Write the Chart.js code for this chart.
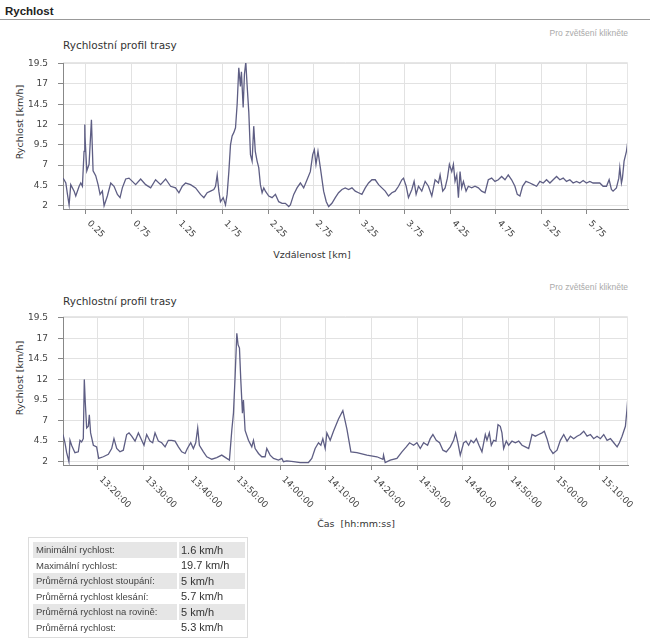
<!DOCTYPE html>
<html lang="cs">
<head>
<meta charset="utf-8">
<title>Rychlost</title>
<script src="https://cdn.jsdelivr.net/npm/chart.js@4.4.1/dist/chart.umd.min.js"></script>
<style>
  body { margin: 0; background: #fff; }
  #page { position: relative; width: 650px; height: 641px; overflow: hidden; font-family: "DejaVu Sans", sans-serif; }
  .abs { position: absolute; white-space: pre; }
  #head { left: 5px; top: 5px; font: bold 11.5px "Liberation Sans", Arial, sans-serif; color: #222; }
  #rule { left: 0; top: 19px; width: 650px; height: 1px; background: #999; }
  .zoom { right: 22px; font: 8.5px "Liberation Sans", Arial, sans-serif; color: #aaa; line-height: 10px; }
  .ctitle { left: 63px; font-size: 10.5px; color: #333; line-height: 12px; }
  .ytitle { font-size: 9.5px; color: #333; transform: translate(-50%, -50%) rotate(-90deg); }
  .xtitle { font-size: 9.5px; color: #333; transform: translate(-50%, -50%); }
  canvas { position: absolute; left: 0; }
  #stats { position: absolute; left: 28px; top: 537px; width: 218px; height: 99px; border: 1px solid #dcdcdc; }
  #stats table { position: absolute; left: 4px; top: 4px; border-collapse: collapse; }
  #stats td { height: 15.5px; padding: 0; }
  #stats td.lab { width: 141px; padding-left: 3px; font: 9.5px "Liberation Sans", Arial, sans-serif; color: #444; }
  #stats td.val { width: 64px; padding-left: 2px; border-left: 2px solid #fff; font: 11px "Liberation Sans", Arial, sans-serif; color: #333; }
  #stats tr.odd td { background: #e6e6e6; }
</style>
</head>
<body>
<div id="page">
  <div class="abs" id="head">Rychlost</div>
  <div class="abs" id="rule"></div>

  <div class="abs zoom" style="top:28px">Pro zvětšení klikněte</div>
  <div class="abs ctitle" style="top:39px">Rychlostní profil trasy</div>
  <div class="abs ytitle" style="left:19px; top:122px">Rychlost [km/h]</div>
  <div class="abs xtitle" style="left:312px; top:254px">Vzdálenost [km]</div>
  <canvas id="distChart" width="650" height="268" style="top:0"></canvas>

  <div class="abs zoom" style="top:282px">Pro zvětšení klikněte</div>
  <div class="abs ctitle" style="top:295px">Rychlostní profil trasy</div>
  <div class="abs ytitle" style="left:19px; top:378px">Rychlost [km/h]</div>
  <div class="abs xtitle" style="left:356px; top:523px">Čas  [hh:mm:ss]</div>
  <canvas id="timeChart" width="650" height="268" style="top:270px"></canvas>

  <div id="stats"><table id="statTable"></table></div>
</div>

<script>
// osa Y - rychlost
const speedTicks = [2, 4.5, 7, 9.5, 12, 14.5, 17, 19.5];
const speedMin = 1.6;
const speedMax = 19.7;

// graf 1 - vzdalenost
const distTicks = [0.25, 0.75, 1.25, 1.75, 2.25, 2.75, 3.25, 3.75, 4.25, 4.75, 5.25, 5.75];
const distTickLabels = ['0.25', '0.75', '1.25', '1.75', '2.25', '2.75', '3.25', '3.75', '4.25', '4.75', '5.25', '5.75'];
const distKm = [
  0, 0.012, 0.031, 0.049, 0.067, 0.085, 0.122, 0.140, 0.177, 0.195, 0.213, 0.231, 0.239, 0.242, 0.261, 0.286,
  0.312, 0.330, 0.359, 0.385, 0.407, 0.432, 0.451, 0.487, 0.524, 0.560, 0.597, 0.626, 0.651, 0.688, 0.724, 0.761,
  0.797, 0.852, 0.907, 0.962, 1.016, 1.071, 1.126, 1.181, 1.235, 1.272, 1.309, 1.345, 1.400, 1.455, 1.509, 1.546,
  1.582, 1.619, 1.655, 1.674, 1.692, 1.710, 1.728, 1.758, 1.783, 1.801, 1.820, 1.838, 1.856, 1.874, 1.893, 1.911,
  1.929, 1.947, 1.958, 1.977, 1.991, 2.006, 2.020, 2.039, 2.057, 2.075, 2.093, 2.110, 2.130, 2.148, 2.166, 2.185,
  2.203, 2.221, 2.258, 2.294, 2.331, 2.367, 2.404, 2.440, 2.477, 2.495, 2.532, 2.568, 2.605, 2.641, 2.678, 2.714,
  2.740, 2.758, 2.776, 2.798, 2.824, 2.860, 2.889, 2.915, 2.951, 2.988, 3.024, 3.061, 3.097, 3.134, 3.171, 3.207,
  3.243, 3.280, 3.317, 3.353, 3.390, 3.426, 3.463, 3.499, 3.536, 3.572, 3.609, 3.645, 3.682, 3.718, 3.736, 3.766,
  3.791, 3.828, 3.853, 3.875, 3.901, 3.937, 3.974, 4.010, 4.047, 4.083, 4.120, 4.138, 4.167, 4.193, 4.218, 4.240,
  4.266, 4.284, 4.302, 4.321, 4.339, 4.357, 4.375, 4.394, 4.423, 4.448, 4.485, 4.521, 4.558, 4.594, 4.631, 4.667,
  4.704, 4.740, 4.777, 4.813, 4.850, 4.886, 4.923, 4.959, 4.985, 5.014, 5.043, 5.080, 5.124, 5.160, 5.197, 5.233,
  5.270, 5.306, 5.343, 5.379, 5.416, 5.452, 5.489, 5.525, 5.562, 5.598, 5.635, 5.671, 5.708, 5.744, 5.781, 5.817,
  5.854, 5.890, 5.927, 5.964, 5.993, 6.018, 6.036, 6.073, 6.099, 6.110, 6.128, 6.139, 6.157, 6.183, 6.200
];
const distSpeed = [
  5.4, 5.2, 4.8, 3.4, 2.1, 4.6, 3.8, 3.2, 4.4, 4.8, 4.4, 8.7, 12.0, 10.4, 6.3, 7.1,
  12.6, 6.3, 5.7, 4.6, 3.4, 3.8, 2.0, 3.2, 4.8, 4.4, 3.4, 3.0, 4.2, 5.3, 5.4, 5.0,
  4.6, 5.3, 4.6, 4.2, 5.2, 4.6, 5.3, 4.4, 4.2, 3.6, 4.4, 4.8, 4.6, 4.2, 3.4, 3.0,
  3.6, 3.8, 4.0, 4.4, 5.8, 3.8, 2.5, 3.0, 2.1, 3.4, 6.2, 9.5, 10.6, 11.0, 11.6, 14.5,
  19.0, 16.7, 18.5, 14.1, 18.2, 19.7, 16.9, 13.5, 8.3, 7.5, 11.8, 8.7, 7.5, 6.7, 4.6, 3.6,
  4.2, 3.8, 3.2, 3.0, 3.4, 2.5, 2.3, 2.3, 1.9, 2.1, 3.4, 4.2, 4.8, 4.2, 5.2, 6.2,
  8.3, 8.9, 7.1, 8.7, 6.7, 3.8, 2.5, 1.9, 2.3, 3.0, 3.6, 4.0, 4.2, 4.0, 4.2, 3.8,
  3.6, 3.4, 4.2, 4.8, 5.2, 5.2, 4.6, 4.2, 3.8, 3.2, 3.6, 3.8, 4.4, 5.2, 5.4, 4.4,
  3.0, 4.0, 5.0, 3.4, 4.4, 3.8, 5.0, 4.4, 3.2, 5.2, 4.8, 5.8, 3.8, 4.2, 5.4, 7.1,
  6.2, 7.1, 5.0, 5.8, 3.0, 6.2, 4.2, 5.0, 3.8, 4.4, 4.2, 4.4, 4.2, 3.8, 3.6, 5.2,
  5.4, 5.0, 5.2, 5.6, 5.2, 5.8, 5.2, 4.4, 3.4, 3.2, 4.4, 5.0, 4.8, 4.6, 4.4, 5.0,
  4.8, 5.2, 4.8, 5.2, 5.6, 5.2, 5.4, 5.0, 5.2, 4.8, 5.0, 4.8, 5.1, 4.8, 5.0, 4.8,
  4.8, 4.8, 4.4, 4.4, 5.2, 4.0, 3.8, 4.2, 5.4, 6.7, 4.8, 5.4, 7.5, 8.7, 10.1
];

// graf 2 - cas
const timeMin = '13:12:24';
const timeMax = '15:16:12';
const timeTickLabels = ['13:20:00', '13:30:00', '13:40:00', '13:50:00', '14:00:00', '14:10:00',
  '14:20:00', '14:30:00', '14:40:00', '14:50:00', '15:00:00', '15:10:00'];
const timeStamps = [
  '13:12:24', '13:12:50', '13:13:12', '13:13:42', '13:13:56', '13:14:17', '13:15:01', '13:15:45', '13:16:07', '13:16:29',
  '13:16:51', '13:17:04', '13:17:17', '13:17:35', '13:17:57', '13:18:10', '13:18:27', '13:19:03', '13:19:46', '13:20:13',
  '13:21:14', '13:22:20', '13:23:04', '13:23:34', '13:24:10', '13:24:53', '13:25:37', '13:26:21', '13:26:52', '13:27:27',
  '13:28:11', '13:28:55', '13:29:39', '13:30:09', '13:30:44', '13:31:28', '13:32:03', '13:32:34', '13:33:18', '13:34:02',
  '13:34:46', '13:35:29', '13:36:13', '13:36:57', '13:37:41', '13:38:25', '13:39:09', '13:39:39', '13:40:23', '13:40:58',
  '13:41:29', '13:41:55', '13:42:17', '13:43:10', '13:43:54', '13:45:00', '13:46:05', '13:47:11', '13:48:17', '13:48:52',
  '13:49:23', '13:49:45', '13:50:07', '13:50:29', '13:50:46', '13:51:04', '13:51:21', '13:51:43', '13:51:56', '13:52:18',
  '13:53:02', '13:53:46', '13:54:08', '13:54:30', '13:55:14', '13:55:57', '13:56:41', '13:57:03', '13:57:47', '13:58:31',
  '13:59:37', '14:00:21', '14:00:42', '14:01:26', '14:02:54', '14:04:22', '14:06:11', '14:06:55', '14:07:39', '14:08:23',
  '14:08:54', '14:09:20', '14:09:51', '14:10:13', '14:10:57', '14:11:40', '14:12:46', '14:13:43', '14:14:36', '14:15:29',
  '14:16:48', '14:18:59', '14:21:11', '14:22:30', '14:22:38', '14:23:00', '14:24:06', '14:25:34', '14:26:40', '14:27:37',
  '14:28:20', '14:29:13', '14:29:57', '14:30:41', '14:31:25', '14:32:17', '14:32:52', '14:33:27', '14:34:11', '14:34:55',
  '14:35:39', '14:36:23', '14:37:16', '14:37:59', '14:38:26', '14:38:56', '14:39:27', '14:40:11', '14:40:42', '14:41:17',
  '14:41:48', '14:42:23', '14:42:58', '14:43:33', '14:44:12', '14:44:56', '14:45:18', '14:45:49', '14:46:15', '14:46:46',
  '14:47:16', '14:47:43', '14:48:13', '14:48:35', '14:48:57', '14:49:32', '14:50:03', '14:50:47', '14:51:31', '14:52:15',
  '14:52:59', '14:53:42', '14:54:26', '14:55:10', '14:55:54', '14:56:38', '14:57:22', '14:57:52', '14:58:27', '14:59:03',
  '14:59:46', '15:00:39', '15:01:23', '15:02:07', '15:02:51', '15:03:35', '15:04:18', '15:05:02', '15:05:46', '15:06:30',
  '15:07:14', '15:07:58', '15:08:41', '15:09:25', '15:10:09', '15:10:53', '15:11:37', '15:12:21', '15:13:05', '15:13:49',
  '15:14:19', '15:14:54', '15:15:16', '15:15:38', '15:15:58', '15:16:12'
];
const timeSpeed = [
  5.3, 4.3, 3.1, 2.0, 4.6, 4.0, 3.1, 3.2, 4.6, 4.4,
  4.8, 12.0, 9.2, 6.1, 6.3, 7.7, 5.5, 4.0, 3.8, 2.4,
  2.6, 2.9, 3.6, 4.8, 3.6, 3.2, 3.4, 5.3, 5.5, 5.1,
  4.5, 5.5, 4.6, 4.0, 5.3, 4.5, 4.3, 5.5, 4.5, 4.3,
  3.8, 4.6, 4.6, 4.5, 3.8, 3.2, 3.0, 3.6, 4.3, 3.6,
  4.3, 6.1, 4.0, 3.2, 2.6, 2.3, 2.5, 2.8, 2.4, 2.2,
  5.8, 7.9, 12.4, 17.6, 16.2, 15.8, 12.0, 7.9, 9.5, 5.8,
  4.6, 3.8, 4.6, 3.6, 3.0, 2.6, 2.6, 3.6, 2.8, 2.4,
  2.2, 2.4, 2.0, 2.1, 2.0, 1.9, 1.9, 2.4, 3.6, 4.3,
  4.0, 4.8, 3.6, 5.5, 4.6, 5.7, 7.2, 8.2, 6.0, 3.2,
  3.1, 2.8, 2.6, 2.3, 2.8, 1.9, 2.2, 2.4, 3.2, 3.8,
  4.3, 4.0, 4.3, 3.6, 4.3, 4.0, 4.8, 5.3, 4.6, 4.3,
  3.4, 3.2, 3.8, 4.6, 5.5, 4.3, 2.8, 4.3, 4.5, 4.0,
  4.6, 4.3, 4.8, 4.0, 3.2, 5.3, 4.6, 5.5, 4.0, 4.6,
  4.5, 6.5, 6.3, 5.5, 3.6, 4.5, 4.0, 4.5, 4.3, 4.5,
  4.0, 3.8, 3.6, 5.3, 5.1, 5.3, 5.5, 5.7, 4.8, 3.6,
  3.0, 3.4, 4.6, 5.3, 4.5, 5.1, 4.8, 5.1, 5.3, 5.7,
  5.1, 5.3, 4.8, 5.1, 4.8, 5.3, 4.6, 4.8, 4.3, 3.8,
  4.3, 5.1, 5.7, 6.3, 8.3, 10.0
];

// tabulka
const statLabels = ['Minimální rychlost:', 'Maximální rychlost:', 'Průměrná rychlost stoupání:',
  'Průměrná rychlost klesání:', 'Průměrná rychlost na rovině:', 'Průměrná rychlost:'];
const statValues = ['1.6 km/h', '19.7 km/h', '5 km/h', '5.7 km/h', '5 km/h', '5.3 km/h'];

function toSec(t) {
  const p = t.split(':').map(Number);
  return p[0] * 3600 + p[1] * 60 + p[2];
}

// popisky osy X otocene o 45 stupnu dolu
const rotatedTicks = {
  id: 'rotatedTicks',
  afterDraw(chart, args, opts) {
    const { ctx, chartArea } = chart;
    const xs = chart.scales.x;
    ctx.save();
    ctx.strokeStyle = '#e6e6e6';
    ctx.lineWidth = 1;
    ctx.beginPath();
    ctx.moveTo(chartArea.left, chartArea.top + 0.5);
    ctx.lineTo(chartArea.right - 0.5, chartArea.top + 0.5);
    ctx.lineTo(chartArea.right - 0.5, chartArea.bottom);
    ctx.stroke();
    ctx.font = '9px "DejaVu Sans"';
    ctx.fillStyle = '#444';
    ctx.textAlign = 'left';
    ctx.textBaseline = 'middle';
    xs.ticks.forEach((t, i) => {
      const px = xs.getPixelForValue(t.value);
      ctx.save();
      ctx.translate(px + 3, chartArea.bottom + 13);
      ctx.rotate(Math.PI / 4);
      ctx.fillText(opts.labels[i], 0, 0);
      ctx.restore();
    });
    ctx.restore();
  }
};

Chart.defaults.font.family = '"DejaVu Sans", sans-serif';

function makeChart(id, points, xMin, xMax, xTicks, xLabels, padTop, xHeight) {
  const ctx = document.getElementById(id).getContext('2d');
  return new Chart(ctx, {
    type: 'line',
    data: {
      datasets: [{
        data: points,
        borderColor: '#5e5e84',
        borderWidth: 1.3,
        pointRadius: 0,
        tension: 0,
        fill: false
      }]
    },
    options: {
      responsive: false,
      animation: false,
      layout: { padding: { top: padTop, right: 22, left: 0, bottom: 0 } },
      plugins: {
        legend: { display: false },
        tooltip: { enabled: false },
        rotatedTicks: { labels: xLabels }
      },
      scales: {
        x: {
          type: 'linear',
          min: xMin,
          max: xMax,
          afterBuildTicks: (scale) => { scale.ticks = xTicks.map(v => ({ value: v })); },
          afterFit: (scale) => { scale.height = xHeight; },
          ticks: { display: false },
          grid: { color: '#e2e2e2', tickColor: '#888', tickLength: 5 },
          border: { color: '#888', width: 1 }
        },
        y: {
          min: speedMin,
          max: speedMax,
          afterBuildTicks: (scale) => { scale.ticks = speedTicks.map(v => ({ value: v })); },
          afterFit: (scale) => { scale.width = 63; },
          ticks: { font: { size: 9 }, color: '#444', padding: 10 },
          grid: { color: '#e2e2e2', tickColor: '#888', tickLength: 5 },
          border: { color: '#888', width: 1 }
        }
      }
    },
    plugins: [rotatedTicks]
  });
}

makeChart('distChart', distKm.map((d, i) => ({ x: d, y: distSpeed[i] })),
  0, 6.2, distTicks, distTickLabels, 62, 59);

makeChart('timeChart', timeStamps.map((t, i) => ({ x: toSec(t), y: timeSpeed[i] })),
  toSec(timeMin), toSec(timeMax), timeTickLabels.map(toSec), timeTickLabels, 46, 73);

// tabulka statistik
const tbl = document.getElementById('statTable');
statLabels.forEach((lab, i) => {
  const tr = document.createElement('tr');
  if (i % 2 === 0) tr.className = 'odd';
  const a = document.createElement('td');
  a.className = 'lab';
  a.textContent = lab;
  const b = document.createElement('td');
  b.className = 'val';
  b.textContent = statValues[i];
  tr.appendChild(a);
  tr.appendChild(b);
  tbl.appendChild(tr);
});
</script>
</body>
</html>
